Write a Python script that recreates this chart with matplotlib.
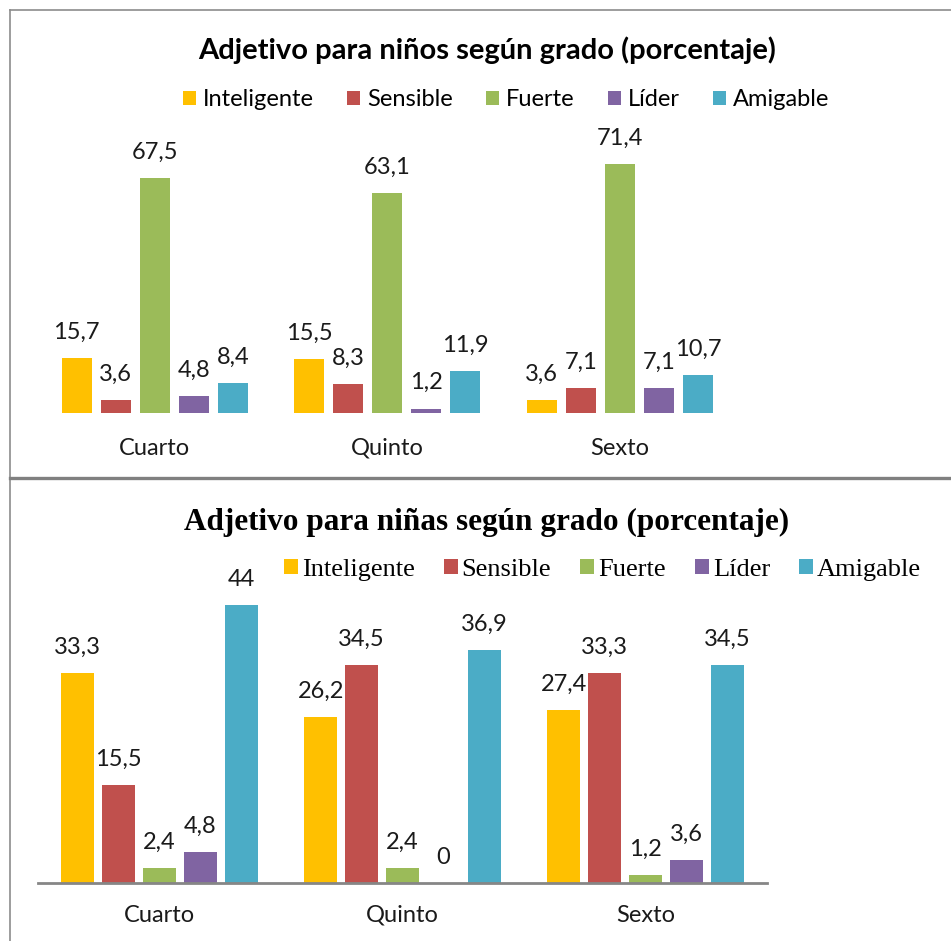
import matplotlib
matplotlib.use("Agg")
import matplotlib.pyplot as plt
import numpy as np
from matplotlib.lines import Line2D
from matplotlib.patches import Patch

grades = ["Cuarto", "Quinto", "Sexto"]
series = ["Inteligente", "Sensible", "Fuerte", "Líder", "Amigable"]
colors = ["#FFC000", "#C0504D", "#9BBB59", "#8064A2", "#4BACC6"]

ninos_inteligente = [15.7, 15.5, 3.6]
ninos_sensible = [3.6, 8.3, 7.1]
ninos_fuerte = [67.5, 63.1, 71.4]
ninos_lider = [4.8, 1.2, 7.1]
ninos_amigable = [8.4, 11.9, 10.7]

ninas_inteligente = [33.3, 26.2, 27.4]
ninas_sensible = [15.5, 34.5, 33.3]
ninas_fuerte = [2.4, 2.4, 1.2]
ninas_lider = [4.8, 0, 3.6]
ninas_amigable = [44, 36.9, 34.5]

title_top = "Adjetivo para niños según grado (porcentaje)"
title_bot = "Adjetivo para niñas según grado (porcentaje)"

def fmt(v):
    if float(v).is_integer():
        return str(int(v))
    return f"{v:.1f}".replace(".", ",")

W, H = 951, 941
fig = plt.figure(figsize=(W/100, H/100), dpi=100)

def fx(px):
    return px / W

def fy(py):
    return 1 - py / H

sans = "Lato"
serif = "Liberation Serif"

def draw_chart(ax_rect, data, width, step, ylim, lab_font, lab_size, cat_pad, axis_line):
    ax = fig.add_axes(ax_rect)
    x = np.arange(len(grades))
    for i, (vals, c) in enumerate(zip(data, colors)):
        off = (i - 2) * step
        ax.bar(x + off, vals, width=width, color=c, label=series[i], zorder=2)
        for xb, v in zip(x + off, vals):
            ax.annotate(fmt(v), (xb, v), xytext=(0, 18.5), textcoords="offset points",
                        ha="center", va="center", fontsize=lab_size,
                        family=lab_font, color="#1a1a1a")
    ax.set_xlim(-0.5, 2.5)
    ax.set_ylim(*ylim)
    ax.set_yticks([])
    ax.set_xticks(x)
    ax.set_xticklabels(grades, family=sans, fontsize=17, color="#1a1a1a")
    ax.tick_params(axis="x", length=0, pad=cat_pad)
    for s in ["top", "right", "left"]:
        ax.spines[s].set_visible(False)
    if axis_line:
        ax.spines["bottom"].set_color("#868686")
        ax.spines["bottom"].set_linewidth(2.0)
    else:
        ax.spines["bottom"].set_visible(False)
    ax.patch.set_alpha(0)
    return ax

# Top chart
top_rect = [fx(38.5), fy(412.7), fx(736) - fx(38.5), (412.7 - 134.3) / H]
draw_chart(top_rect,
           [ninos_inteligente, ninos_sensible, ninos_fuerte, ninos_lider, ninos_amigable],
           width=0.129, step=0.168, ylim=(0, 80), lab_font=sans, lab_size=17,
           cat_pad=18, axis_line=False)

# Bottom chart
bot_rect = [fx(38), fy(882.7), fx(767) - fx(38), (882.7 - 567.2) / H]
draw_chart(bot_rect,
           [ninas_inteligente, ninas_sensible, ninas_fuerte, ninas_lider, ninas_amigable],
           width=0.136, step=0.168, ylim=(0, 50), lab_font=sans, lab_size=17,
           cat_pad=16, axis_line=True)

# Titles
fig.text(fx(487), fy(50), title_top, ha="center", va="center",
         family=sans, fontweight="bold", fontsize=21, color="#000000")
fig.text(fx(487), fy(522), title_bot, ha="center", va="center",
         family=serif, fontweight="bold", fontsize=22.5, color="#000000")

# Legends
handles = [Patch(facecolor=c, edgecolor="none", label=s) for s, c in zip(series, colors)]
fig.legend(handles=handles, loc="center", bbox_to_anchor=(fx(506), fy(100)),
           ncol=5, frameon=False, handlelength=0.55, handleheight=0.55,
           handletextpad=0.3, columnspacing=1.4,
           prop={"family": sans, "size": 17})
fig.legend(handles=handles, loc="center", bbox_to_anchor=(fx(602.5), fy(570)),
           ncol=5, frameon=False, handlelength=0.53, handleheight=0.53,
           handletextpad=0.15, columnspacing=1.1,
           prop={"family": serif, "size": 19})

# Frame lines
fig.add_artist(Line2D([fx(10), 1], [fy(9.5), fy(9.5)], transform=fig.transFigure,
                      color="#8c8c8c", lw=1.2))
fig.add_artist(Line2D([fx(10.3), fx(10.3)], [fy(9.5), 0], transform=fig.transFigure,
                      color="#8c8c8c", lw=1.2))
fig.add_artist(Line2D([fx(10), 1], [fy(478), fy(478)], transform=fig.transFigure,
                      color="#808080", lw=2.4))

fig.savefig("out.png", dpi=100)
